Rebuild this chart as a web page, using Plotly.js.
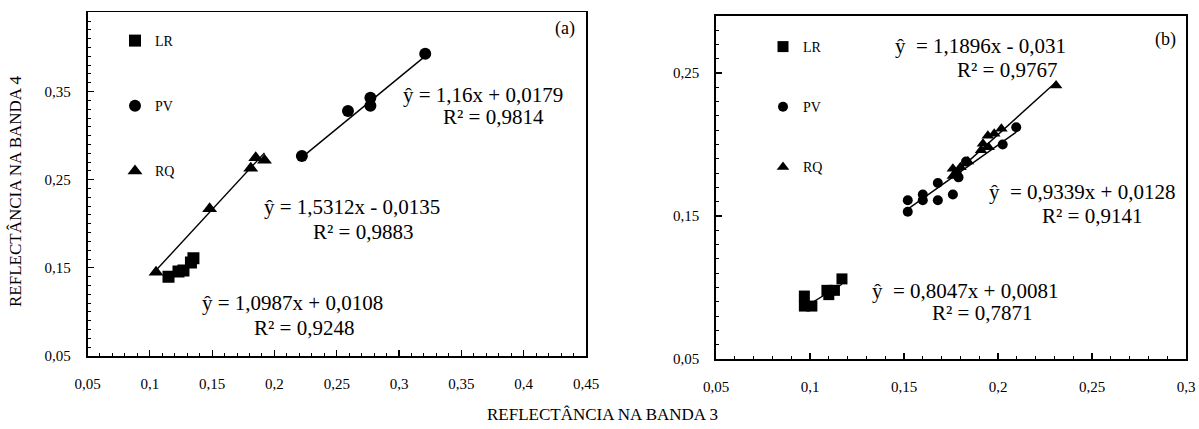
<!DOCTYPE html>
<html>
<head>
<meta charset="utf-8">
<script src="https://cdn.plot.ly/plotly-3.0.1.min.js"></script>
<style>html,body{margin:0;padding:0;background:#fff;}</style>
</head>
<body>
<div id="chart" style="width:1199px;height:429px;"></div>
<script>
// ---------- Panel (a) data ----------
const seriesNames = ["LR", "PV", "RQ"];
const aLR_x = [0.115, 0.123, 0.127, 0.133, 0.135];
const aLR_y = [0.140, 0.146, 0.147, 0.156, 0.161];
const aPV_x = [0.222, 0.259, 0.277, 0.277, 0.321];
const aPV_y = [0.277, 0.328, 0.343, 0.334, 0.393];
const aRQ_x = [0.105, 0.148, 0.181, 0.185, 0.192];
const aRQ_y = [0.145, 0.217, 0.263, 0.275, 0.272];
// trendline coefficients [slope, intercept]
const aLR_fit = [1.0987, 0.0108];
const aPV_fit = [1.16, 0.0179];
const aRQ_fit = [1.5312, -0.0135];

// ---------- Panel (b) data ----------
const bLR_x = [0.097, 0.097, 0.101, 0.109, 0.110, 0.113, 0.117];
const bLR_y = [0.094, 0.087, 0.087, 0.098, 0.095, 0.098, 0.106];
const bPV_x = [0.152, 0.152, 0.160, 0.160, 0.168, 0.168, 0.176, 0.179, 0.183, 0.178, 0.2025, 0.2097];
const bPV_y = [0.153, 0.161, 0.165, 0.161, 0.173, 0.161, 0.165, 0.177, 0.188, 0.180, 0.200, 0.212];
const bRQ_x = [0.176, 0.176, 0.180, 0.184, 0.191, 0.192, 0.195, 0.1946, 0.198, 0.2018, 0.2309];
const bRQ_y = [0.178, 0.183, 0.184, 0.188, 0.196, 0.2005, 0.198, 0.206, 0.2075, 0.211, 0.2412];
const bLR_fit = [0.8047, 0.0081];
const bPV_fit = [0.9339, 0.0128];
const bRQ_fit = [1.1896, -0.031];

// ---------- texts ----------
const xTitle = "REFLECTÂNCIA NA BANDA 3";
const yTitle = "REFLECTÂNCIA NA BANDA 4";
const eqA = ["ŷ = 1,16x + 0,0179", "R² = 0,9814", "ŷ = 1,5312x - 0,0135", "R² = 0,9883", "ŷ = 1,0987x + 0,0108", "R² = 0,9248"];
const eqB = ["ŷ\u00a0\u00a0= 1,1896x - 0,031", "R² = 0,9767", "ŷ\u00a0\u00a0= 0,9339x + 0,0128", "R² = 0,9141", "ŷ\u00a0\u00a0= 0,8047x + 0,0081", "R² = 0,7871"];

const W = 1199, H = 429;
const px = v => v / W;
const py = v => 1 - v / H;
const FONT = "Liberation Serif, Times New Roman, serif";

function pts(xs, ys, name, symbol, size, xa, ya, legend, group) {
  return {type: "scatter", mode: "markers", x: xs, y: ys, name: name,
    xaxis: xa, yaxis: ya, legend: legend, legendgroup: group,
    marker: {symbol: symbol, size: size, color: "#000"}, hoverinfo: "skip"};
}
function fit(xs, coef, xa, ya) {
  const x0 = Math.min(...xs), x1 = Math.max(...xs);
  return {type: "scatter", mode: "lines", x: [x0, x1], y: [coef[0] * x0 + coef[1], coef[0] * x1 + coef[1]],
    xaxis: xa, yaxis: ya, showlegend: false, line: {color: "#000", width: 1.4}, hoverinfo: "skip"};
}

const traces = [
  pts(aLR_x, aLR_y, seriesNames[0], "square", 12, "x", "y", "legend", "aLR"),
  pts(aPV_x, aPV_y, seriesNames[1], "circle", 12, "x", "y", "legend", "aPV"),
  pts(aRQ_x, aRQ_y, seriesNames[2], "triangle-up", 13, "x", "y", "legend", "aRQ"),
  fit(aLR_x, aLR_fit, "x", "y"),
  fit(aPV_x, aPV_fit, "x", "y"),
  fit(aRQ_x, aRQ_fit, "x", "y"),
  pts(bLR_x, bLR_y, seriesNames[0], "square", 11, "x2", "y2", "legend2", "bLR"),
  pts(bPV_x, bPV_y, seriesNames[1], "circle", 10, "x2", "y2", "legend2", "bPV"),
  pts(bRQ_x, bRQ_y, seriesNames[2], "triangle-up", 11, "x2", "y2", "legend2", "bRQ"),
  fit(bLR_x, bLR_fit, "x2", "y2"),
  fit(bPV_x, bPV_fit, "x2", "y2"),
  fit(bRQ_x, bRQ_fit, "x2", "y2")
];

function axis(extra) {
  return Object.assign({
    showline: true, mirror: true, linecolor: "#000", linewidth: 1.8,
    showgrid: false, zeroline: false,
    ticks: "inside", ticklen: 6, tickwidth: 1.2, tickcolor: "#000",
    minor: {ticks: "inside", ticklen: 3, tickwidth: 1, tickcolor: "#000", dtick: 0.01, showgrid: false},
    tickfont: {family: FONT, size: 15, color: "#000"},
    tickformat: ".2~f", fixedrange: true
  }, extra);
}

function ann(text, x, y, size, extra) {
  return Object.assign({text: text, xref: "paper", yref: "paper", x: px(x), y: py(y),
    xanchor: "left", yanchor: "middle", showarrow: false,
    font: {family: FONT, size: size, color: "#000"}}, extra || {});
}

const annotations = [
  ann(eqA[0], 401, 95, 21), ann(eqA[1], 441, 117, 21),
  ann(eqA[2], 262, 207, 21), ann(eqA[3], 311, 232, 21),
  ann(eqA[4], 200, 303, 21), ann(eqA[5], 252, 328, 21),
  ann("(a)", 553, 28, 18),
  ann(eqB[0], 893, 46, 21), ann(eqB[1], 955, 70, 21),
  ann(eqB[2], 987, 192, 21), ann(eqB[3], 1040, 216, 21),
  ann(eqB[4], 870, 291, 21), ann(eqB[5], 930, 313, 21),
  ann("(b)", 1153, 39, 18),
  ann(yTitle, 16, 192, 17, {xanchor: "center", textangle: -90}),
  ann(xTitle, 602, 414, 17, {xanchor: "center"})
];

const legendBase = {bgcolor: "rgba(0,0,0,0)", borderwidth: 0, xanchor: "left", yanchor: "top",
  font: {family: FONT, size: 14, color: "#000"}, traceorder: "grouped", itemclick: false, itemdoubleclick: false};

const layout = {
  width: W, height: H,
  margin: {l: 0, r: 0, t: 0, b: 0},
  paper_bgcolor: "#fff", plot_bgcolor: "#fff",
  separators: ",.",
  font: {family: FONT, color: "#000"},
  showlegend: true,
  xaxis: axis({domain: [px(87.5), px(586)], range: [0.05, 0.45], dtick: 0.05, tick0: 0.05, anchor: "y", ticklabelstandoff: 13}),
  yaxis: axis({domain: [py(356), py(12.3)], range: [0.05, 0.44], dtick: 0.1, tick0: 0.05, anchor: "x", ticklabelstandoff: 12}),
  xaxis2: axis({domain: [px(716), px(1186)], range: [0.05, 0.3], dtick: 0.05, tick0: 0.05, anchor: "y2", ticklabelstandoff: 13}),
  yaxis2: axis({domain: [py(359), py(15.7)], range: [0.05, 0.29], dtick: 0.1, tick0: 0.05, anchor: "x2", ticklabelstandoff: 12}),
  legend: Object.assign({}, legendBase, {x: px(115), y: py(25), tracegroupgap: 44}),
  legend2: Object.assign({}, legendBase, {x: px(763), y: py(31), tracegroupgap: 39}),
  annotations: annotations
};

Plotly.newPlot("chart", traces, layout, {staticPlot: true, displayModeBar: false});
</script>
</body>
</html>
